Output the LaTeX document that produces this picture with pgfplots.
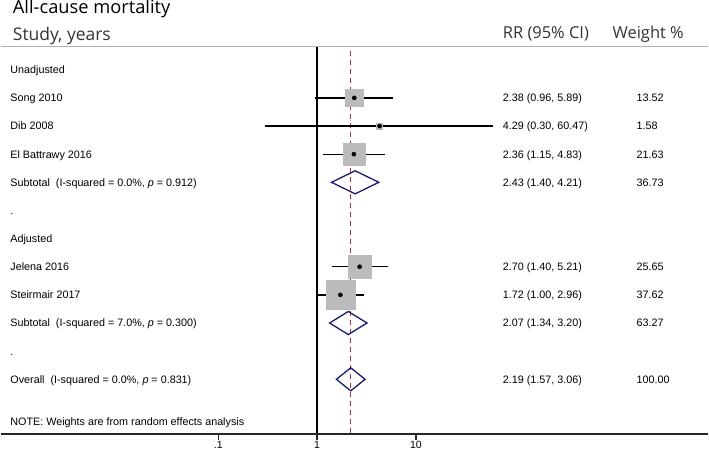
\documentclass[border=0pt]{standalone}
\usepackage{fontspec}
\setmainfont{Liberation Sans}
\newfontfamily\headfont{Open Sans}
\usepackage{pgfplots}
\pgfplotsset{compat=1.18}
\usepackage{pgfplotstable}
\definecolor{boxgray}{HTML}{BBBBBB}
\definecolor{navy}{HTML}{1A1A6E}
\definecolor{refred}{HTML}{A03246}

% row index (counted downwards), estimate, lower, upper, weight
\pgfplotstableread{
row est lo hi w
1 2.38 0.96 5.89 13.52
2 4.29 0.30 60.47 1.58
3 2.36 1.15 4.83 21.63
7 2.70 1.40 5.21 25.65
8 1.72 1.00 2.96 37.62
}\studies

\newcommand{\rowfont}{\fontsize{10.8}{12}\selectfont}
\newcommand{\lt}[2]{\node[anchor=base west, xshift=9.5pt, yshift=-3.9pt, font=\rowfont, inner sep=0pt] at (axis cs:6.281e-4,-#1) {#2};}
\newcommand{\ci}[3]{\node[anchor=base west, xshift=503pt, yshift=-3.9pt, font=\rowfont, inner sep=0pt] at (axis cs:6.281e-4,-#1) {#2};
  \node[anchor=base west, xshift=637pt, yshift=-3.9pt, font=\rowfont, inner sep=0pt] at (axis cs:6.281e-4,-#1) {#3};}
\newcommand{\tk}[2]{\addplot[black!85, line width=1.3pt] coordinates {(#1,-12.943) (#1,-13.156)};
  \node[anchor=base, inner sep=0pt, font=\fontsize{10.5}{12}\selectfont] at (axis cs:#1,-13.475) {#2};}

\begin{document}
\begin{tikzpicture}
\begin{axis}[
  scale only axis, width=709pt, height=459pt,
  xmode=log, xmin=6.281e-4, xmax=9112,
  ymin=-13.759, ymax=2.518,
  hide axis,
  clip=false,
]
% reference lines
\addplot[black, line width=1.3pt] coordinates {(1,0.816) (1,-12.943)};
\addplot[refred, line width=1pt, dash pattern=on 5pt off 4pt] coordinates {(2.19,0.674) (2.19,-12.943)};

% x axis line, ticks and tick labels
\addplot[black!85, line width=1.5pt] coordinates {(6.281e-4,-12.943) (9112,-12.943)};
\tk{0.1}{.1}
\tk{1}{1}
\tk{10}{10}

% boxes sized by weight
\addplot[scatter, only marks, mark=square*,
  scatter/use mapped color={draw=boxgray, fill=boxgray},
  visualization depends on={sqrt(\thisrow{w})*2.35 \as \msize},
  scatter/@pre marker code/.append style={/tikz/mark size=\msize}]
  table[x=est, y expr=-\thisrow{row}] {\studies};

% confidence intervals
\addplot[black, line width=1.3pt] coordinates {(0.96,-1) (5.89,-1)};
\addplot[black, line width=1.3pt] coordinates {(0.30,-2) (60.47,-2)};
\addplot[black, line width=1.3pt] coordinates {(1.15,-3) (4.83,-3)};
\addplot[black, line width=1.3pt] coordinates {(1.40,-7) (5.21,-7)};
\addplot[black, line width=1.3pt] coordinates {(1.00,-8) (2.96,-8)};

% point estimates
\addplot[only marks, mark=*, mark size=2.1pt, black] table[x=est, y expr=-\thisrow{row}] {\studies};

% pooled diamonds
\addplot[navy, line width=1.3pt] coordinates {(1.40,-4) (2.43,-3.59) (4.21,-4) (2.43,-4.41)} -- cycle;
\addplot[navy, line width=1.3pt] coordinates {(1.34,-9) (2.07,-8.59) (3.20,-9) (2.07,-9.41)} -- cycle;
\addplot[navy, line width=1.3pt] coordinates {(1.57,-11) (2.19,-10.59) (3.06,-11) (2.19,-11.41)} -- cycle;

% header
\addplot[black!30, line width=1.2pt] coordinates {(6.281e-4,0.816) (9112,0.816)};
\node[anchor=base west, inner sep=0pt, xshift=12pt, font=\headfont\fontsize{18.3}{20}\selectfont] at (axis cs:6.281e-4,1.986) {All-cause mortality};
\node[anchor=base west, inner sep=0pt, xshift=12pt, font=\headfont\fontsize{17.5}{20}\selectfont, text=black!80] at (axis cs:6.281e-4,1.046) {Study, years};
\node[anchor=base west, inner sep=0pt, xshift=503pt, font=\headfont\fontsize{16.5}{20}\selectfont, text=black!80] at (axis cs:6.281e-4,1.117) {RR (95\% CI)};
\node[anchor=base west, inner sep=0pt, xshift=613pt, font=\headfont\fontsize{16.5}{20}\selectfont, text=black!80] at (axis cs:6.281e-4,1.117) {Weight \%};

% rows
\lt{0}{Unadjusted}
\lt{1}{Song 2010}
\lt{2}{Dib 2008}
\lt{3}{El Battrawy 2016}
\lt{4}{Subtotal\ \ (I-squared = 0.0\%, \textit{p} = 0.912)}
\lt{5}{.}
\lt{6}{Adjusted}
\lt{7}{Jelena 2016}
\lt{8}{Steirmair 2017}
\lt{9}{Subtotal\ \ (I-squared = 7.0\%, \textit{p} = 0.300)}
\lt{10}{.}
\lt{11}{Overall\ \ (I-squared = 0.0\%, \textit{p} = 0.831)}
\lt{12.5}{NOTE: Weights are from random effects analysis}

\ci{1}{2.38 (0.96, 5.89)}{13.52}
\ci{2}{4.29 (0.30, 60.47)}{1.58}
\ci{3}{2.36 (1.15, 4.83)}{21.63}
\ci{4}{2.43 (1.40, 4.21)}{36.73}
\ci{7}{2.70 (1.40, 5.21)}{25.65}
\ci{8}{1.72 (1.00, 2.96)}{37.62}
\ci{9}{2.07 (1.34, 3.20)}{63.27}
\ci{11}{2.19 (1.57, 3.06)}{100.00}
\end{axis}
\end{tikzpicture}
\end{document}
